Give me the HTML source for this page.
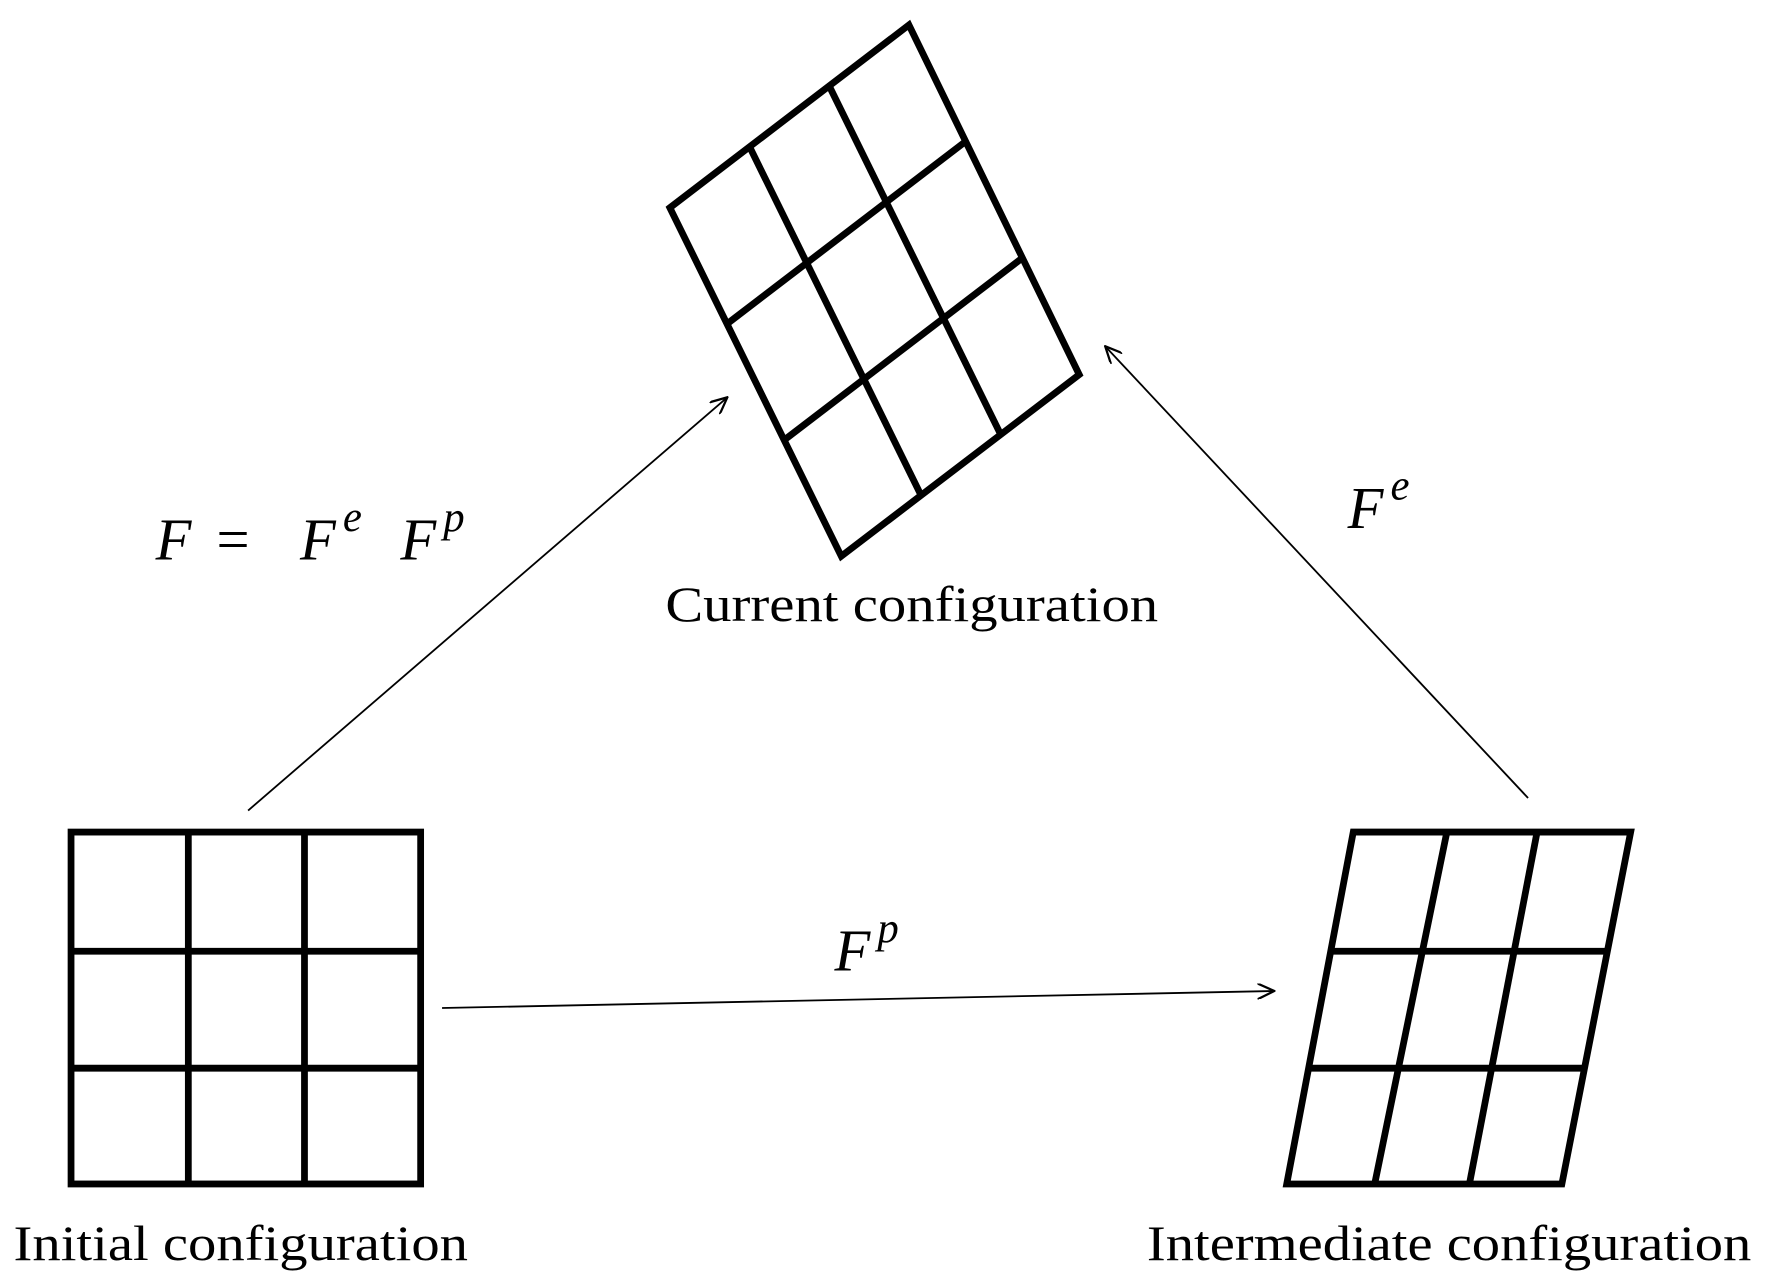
<!DOCTYPE html>
<html><head><meta charset="utf-8"><style>html,body{margin:0;padding:0;background:#fff}svg{display:block}</style></head>
<body>
<svg width="1766" height="1285" viewBox="0 0 1566 1132" preserveAspectRatio="none" xmlns="http://www.w3.org/2000/svg">
<defs>
<marker id="ah" markerWidth="16" markerHeight="14" refX="15" refY="7" orient="auto" markerUnits="userSpaceOnUse">
<path d="M0,0 L15,7 L0,14" fill="none" stroke="#000" stroke-width="2"/>
</marker>
</defs>
<g fill="none" stroke="#000" stroke-width="6" stroke-linejoin="miter">
<rect x="63" y="733" width="310" height="310"/>
<line x1="167" y1="733" x2="167" y2="1043"/>
<line x1="270" y1="733" x2="270" y2="1043"/>
<line x1="63" y1="838" x2="373" y2="838"/>
<line x1="63" y1="941" x2="373" y2="941"/>
<polygon points="1200,733 1446,733 1385,1043 1141,1043"/>
<line x1="1283" y1="733" x2="1219" y2="1043"/>
<line x1="1363" y1="733" x2="1303" y2="1043"/>
<line x1="1179" y1="838" x2="1425" y2="838"/>
<line x1="1159" y1="941" x2="1405" y2="941"/>
<polygon points="594,183 806,22 957,330 746,490"/>
<line x1="664.7" y1="129.3" x2="816.7" y2="436.3"/>
<line x1="735.3" y1="75.7" x2="887.3" y2="382.7"/>
<line x1="644.7" y1="285.3" x2="856.7" y2="124.3"/>
<line x1="695.3" y1="387.7" x2="907.3" y2="226.7"/>
</g>
<g stroke="#000" stroke-width="1.6" fill="none">
<line x1="220" y1="714" x2="645" y2="350" marker-end="url(#ah)"/>
<line x1="1355" y1="703" x2="980" y2="305" marker-end="url(#ah)"/>
<line x1="392" y1="888" x2="1130" y2="873" marker-end="url(#ah)"/>
</g>
<g font-family="Liberation Serif, serif" fill="#000">
<text x="138" y="493" font-size="52" font-style="italic">F</text>
<text x="192" y="493" font-size="52">=</text>
<text x="266" y="493" font-size="52" font-style="italic">F</text>
<text x="304" y="468" font-size="38" font-style="italic">e</text>
<text x="355" y="493" font-size="52" font-style="italic">F</text>
<text x="393" y="468" font-size="38" font-style="italic">p</text>
<text x="1195" y="465" font-size="52" font-style="italic">F</text>
<text x="1233" y="440" font-size="38" font-style="italic">e</text>
<text x="740" y="855" font-size="52" font-style="italic">F</text>
<text x="778" y="830" font-size="38" font-style="italic">p</text>
<text x="590" y="547" font-size="44" textLength="437" lengthAdjust="spacingAndGlyphs">Current configuration</text>
<text x="12" y="1110" font-size="44" textLength="403" lengthAdjust="spacingAndGlyphs">Initial configuration</text>
<text x="1017" y="1110" font-size="44" textLength="536" lengthAdjust="spacingAndGlyphs">Intermediate configuration</text>
</g>
</svg>
</body></html>
